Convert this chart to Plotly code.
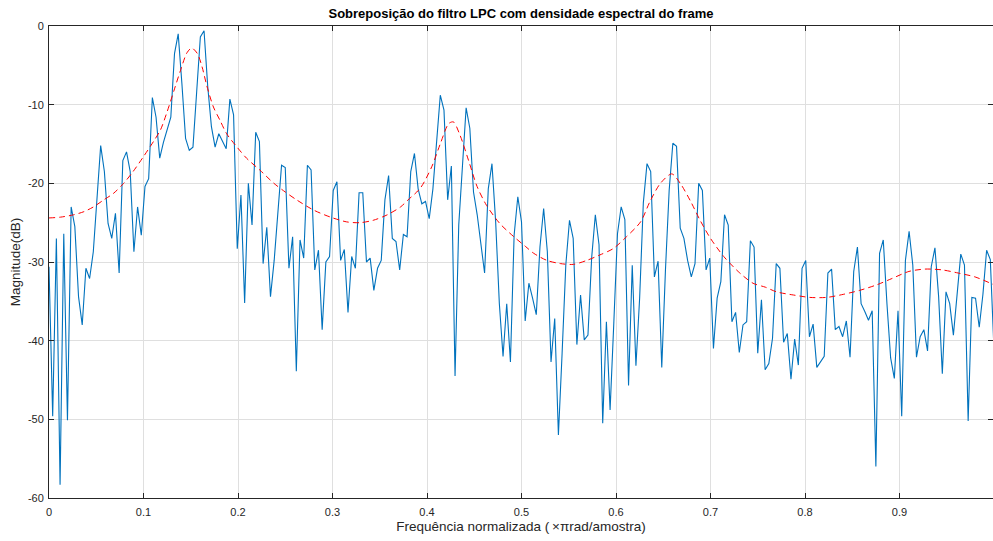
import numpy as np
import plotly.graph_objects as go

# Spectral density of the frame (dB), 257 bins from 0 to 1 (x pi rad/sample)
psd_db = [
    -30.6, -49.6, -27.0, -58.3, -26.4, -50.1, -23.0, -25.5, -34.4, -38.0,
    -30.8, -32.1, -28.7, -22.1, -15.2, -18.5, -25.1, -27.0, -23.8, -31.4,
    -17.1, -16.0, -18.5, -28.7, -23.0, -26.6, -20.4, -19.4, -9.1, -11.6,
    -16.8, -14.8, -13.2, -11.6, -3.5, -1.0, -7.3, -14.3, -15.8, -15.4,
    -8.4, -1.4, -0.6, -7.7, -12.8, -15.4, -13.7, -14.7, -15.6, -9.3,
    -11.3, -28.3, -21.5, -35.2, -20.0, -25.3, -13.5, -14.7, -30.2, -25.6,
    -34.4, -29.8, -24.2, -17.7, -18.0, -30.8, -26.8, -43.9, -27.2, -29.5,
    -17.7, -18.3, -31.0, -28.5, -38.6, -30.0, -29.3, -20.9, -19.8, -29.8,
    -28.4, -36.4, -29.3, -30.8, -21.2, -21.2, -30.0, -29.5, -33.6, -30.8,
    -29.8, -22.1, -19.0, -27.0, -27.4, -31.0, -26.5, -26.8, -18.5, -16.2,
    -20.7, -22.6, -22.3, -24.5, -20.7, -15.2, -8.8, -10.7, -22.1, -17.8,
    -44.5, -25.3, -17.9, -10.4, -13.0, -21.1, -24.0, -28.1, -31.4, -20.7,
    -17.5, -24.9, -35.3, -42.0, -35.3, -42.7, -26.6, -21.7, -24.9, -37.5,
    -32.7, -34.6, -36.7, -28.1, -23.2, -28.7, -42.7, -37.2, -52.0, -41.6,
    -30.4, -24.7, -27.0, -40.5, -34.2, -39.9, -39.3, -29.5, -24.0, -27.8,
    -50.5, -37.6, -48.8, -37.8, -26.4, -23.0, -24.6, -45.7, -30.4, -43.2,
    -34.6, -22.5, -17.5, -18.5, -31.9, -29.9, -43.4, -31.0, -20.9, -14.9,
    -15.3, -25.7, -27.0, -29.8, -31.9, -30.2, -20.0, -20.9, -31.0, -29.5,
    -41.0, -34.6, -32.5, -24.0, -25.3, -37.6, -36.4, -41.5, -38.0, -37.6,
    -27.3, -28.1, -41.6, -34.8, -43.7, -42.9, -39.7, -30.2, -30.8, -40.2,
    -39.1, -44.9, -39.8, -43.1, -30.8, -29.8, -39.5, -37.9, -43.4, -42.7,
    -42.0, -31.4, -30.9, -38.6, -38.2, -39.5, -37.5, -42.1, -31.2, -28.1,
    -35.3, -36.3, -37.4, -36.2, -56.0, -28.9, -27.2, -35.3, -42.2, -44.8,
    -36.2, -49.6, -29.8, -26.1, -30.4, -42.1, -39.5, -38.6, -41.3, -30.6,
    -28.2, -34.4, -44.2, -33.8, -35.3, -39.3, -33.6, -29.0, -30.4, -50.2,
    -34.5, -34.6, -38.3, -34.1, -28.5, -29.7, -41.2,
]
freq = np.arange(len(psd_db)) / 256.0

# LPC filter response (dB), read at selected frequencies
lpc_freq = [0.000, 0.012, 0.026, 0.037, 0.047, 0.058, 0.068, 0.079, 0.089, 0.100,
            0.111, 0.118, 0.125, 0.132, 0.139, 0.146, 0.151, 0.157, 0.162, 0.167,
            0.174, 0.181, 0.188, 0.199, 0.209, 0.223, 0.238, 0.250, 0.262, 0.280,
            0.298, 0.315, 0.329, 0.343, 0.358, 0.372, 0.380, 0.393, 0.405, 0.414,
            0.423, 0.428, 0.435, 0.444, 0.453, 0.463, 0.477, 0.492, 0.504, 0.513,
            0.527, 0.541, 0.555, 0.569, 0.583, 0.597, 0.611, 0.626, 0.636, 0.647,
            0.659, 0.668, 0.679, 0.689, 0.700, 0.714, 0.731, 0.745, 0.758, 0.770,
            0.788, 0.805, 0.823, 0.841, 0.858, 0.876, 0.892, 0.910, 0.927, 0.945,
            0.962, 0.980, 1.000]
lpc_db = [-24.4, -24.3, -24.0, -23.6, -23.0, -22.1, -21.3, -20.0, -18.5, -16.6,
          -14.6, -13.2, -10.9, -8.3, -5.7, -3.4, -2.8, -3.5, -5.2, -7.6,
          -10.3, -12.0, -13.7, -15.4, -16.8, -18.3, -20.0, -21.1, -22.1, -23.4,
          -24.3, -24.9, -25.0, -24.7, -24.0, -23.0, -22.1, -20.6, -17.9, -15.0,
          -12.4, -12.2, -13.9, -17.1, -20.4, -22.8, -25.1, -26.8, -28.0, -28.9,
          -29.8, -30.2, -30.3, -29.8, -29.1, -28.3, -26.8, -24.9, -22.3, -20.0,
          -18.8, -20.0, -22.3, -24.7, -27.0, -29.3, -31.4, -32.7, -33.2, -33.8,
          -34.2, -34.5, -34.5, -34.1, -33.6, -32.9, -32.1, -31.2, -30.9, -31.0,
          -31.4, -31.9, -32.9]

x_ticks = [0, 0.1, 0.2, 0.3, 0.4, 0.5, 0.6, 0.7, 0.8, 0.9, 1]
x_ticktext = ["0", "0.1", "0.2", "0.3", "0.4", "0.5", "0.6", "0.7", "0.8", "0.9", "1"]
y_ticks = [0, -10, -20, -30, -40, -50, -60]
y_ticktext = ["0", "-10", "-20", "-30", "-40", "-50", "-60"]

axis_color = "#262626"
grid_color = "#dfdfdf"
font_family = "Liberation Sans, Arial, sans-serif"

fig = go.Figure()
fig.add_trace(go.Scatter(x=freq, y=psd_db, mode="lines",
                         line=dict(color="#0072BD", width=1.1),
                         hoverinfo="skip", showlegend=False))
fig.add_trace(go.Scatter(x=lpc_freq, y=lpc_db, mode="lines",
                         line=dict(color="#FF0000", width=1, dash="6px,4px",
                                   shape="spline", smoothing=0.8),
                         hoverinfo="skip", showlegend=False))

fig.update_layout(
    width=993, height=541,
    margin=dict(l=49, r=0, t=26, b=43, pad=0),
    paper_bgcolor="white", plot_bgcolor="white",
    font=dict(family=font_family, size=11, color=axis_color),
    title=dict(text="<b>Sobreposição do filtro LPC com densidade espectral do frame</b>",
               x=(49 + 993) / 2 / 993, xanchor="center", y=1 - 13 / 541, yanchor="middle",
               font=dict(size=13, color="black", family=font_family)),
    xaxis=dict(range=[0, (993 - 49) / 945.0], tickmode="array", tickvals=x_ticks,
               ticktext=x_ticktext, showgrid=True, gridcolor=grid_color, gridwidth=1,
               zeroline=False, showline=True, linecolor=axis_color, linewidth=1,
               mirror="ticks", ticks="inside", ticklen=5, tickcolor=axis_color,
               tickfont=dict(size=11, color=axis_color), ticklabelstandoff=4,
               title=dict(text="Frequência normalizada (\u2009×πrad/amostra)",
                          font=dict(size=13.5, color=axis_color), standoff=4)),
    yaxis=dict(range=[-60, 0], tickmode="array", tickvals=y_ticks,
               ticktext=y_ticktext, showgrid=True, gridcolor=grid_color, gridwidth=1,
               zeroline=False, showline=True, linecolor=axis_color, linewidth=1,
               mirror="ticks", ticks="inside", ticklen=5, tickcolor=axis_color,
               tickfont=dict(size=11, color=axis_color), ticklabelstandoff=2,
               title=dict(text="Magnitude(dB)", font=dict(size=13.5, color=axis_color),
                          standoff=4)),
)

fig.write_html("out.html")
